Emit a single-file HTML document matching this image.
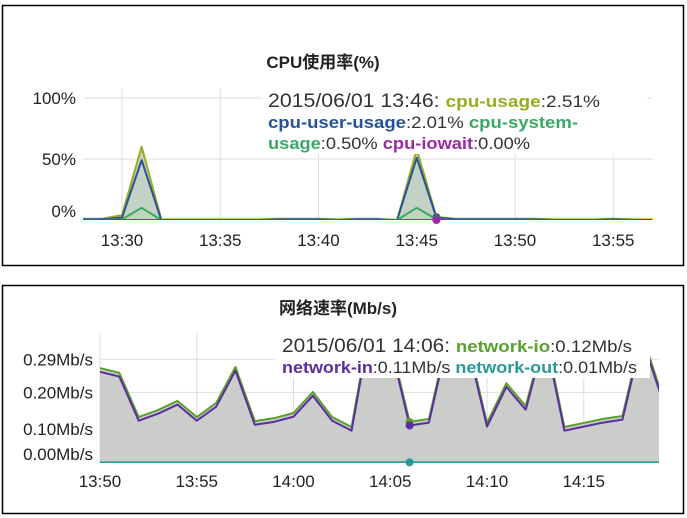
<!DOCTYPE html>
<html><head><meta charset="utf-8">
<style>
html,body{margin:0;padding:0;background:#fff;width:687px;height:518px;overflow:hidden}
svg{display:block;font-family:"Liberation Sans","Noto Sans CJK SC",sans-serif}
</style></head>
<body>
<svg id="svg" width="687" height="518" viewBox="0 0 687 518">
  <rect x="2.5" y="5.5" width="681" height="260" fill="#fff" stroke="#000" stroke-width="1.5"/>
  <rect x="2.5" y="285.5" width="681" height="228" fill="#fff" stroke="#000" stroke-width="1.5"/>
  <text x="323" y="68" text-anchor="middle" font-size="17" font-weight="bold" fill="#222">CPU使用率(%)</text>
  <text x="338" y="314" text-anchor="middle" font-size="17" font-weight="bold" fill="#222">网络速率(Mb/s)</text>
  <g id="cpu"></g>
  <g id="net"></g>
</svg>
<script>
// ---- CPU chart data (per minute starting 13:28) ----
const cpuStartMin = 28;
const cpuUsage  = [1,1,4,60,0.5,0.5,0.5,0.5,0.5,0.5,1,1,1,0.5,1,1,0,58,2.51,1,1,1,1,1,0.5,0.5,0.5,1,0.5,0.5];
const cpuUser   = [0.5,0.5,2,49,0,0,0,0,0,0,0.5,0.5,0.5,0,0.5,0.5,0,51,2.01,0.5,0.5,0.5,0.5,0.5,0,0,0,0.5,0,0];
const cpuSystem = [0,0,0.5,10,0,0,0,0,0,0,0,0,0,0,0,0,0,10,0.5,0,0,0,0,0,0,0,0,0,0,0];
const cpuIowait = [0,0,0,0,0,0,0,0,0,0,0,0,0,0,0,0,0,0,0,0,0,0,0,0,0,0,0,0,0,0];
const cpuXTicks = ["13:30","13:35","13:40","13:45","13:50","13:55"];
const cpuXTickMin = [30,35,40,45,50,55];
const cpuYTicks = [100,50,0];
const cpuYTickLabels = ["100%","50%","0%"];

// ---- Network chart data (per minute starting 13:50) ----
const netStartMin = 50;
const netIo  = [0.266,0.253,0.133,0.152,0.177,0.133,0.171,0.269,0.122,0.13,0.144,0.201,0.133,0.106,0.40,0.34,0.12,0.128,0.36,0.34,0.117,0.225,0.163,0.36,0.106,0.117,0.128,0.136,0.36,0.20];
const netIn  = [0.256,0.243,0.123,0.142,0.167,0.123,0.161,0.259,0.112,0.12,0.134,0.191,0.123,0.096,0.39,0.33,0.11,0.118,0.35,0.33,0.107,0.215,0.153,0.35,0.096,0.107,0.118,0.126,0.35,0.19];
const netOut = [0.01,0.01,0.01,0.01,0.01,0.01,0.01,0.01,0.01,0.01,0.01,0.01,0.01,0.01,0.01,0.01,0.01,0.01,0.01,0.01,0.01,0.01,0.01,0.01,0.01,0.01,0.01,0.01,0.01,0.01];
const netXTicks = ["13:50","13:55","14:00","14:05","14:10","14:15"];
const netXTickMin = [50,55,60,65,70,75];
const netYTicks = [0.29,0.20,0.10,0.00];
const netYTickLabels = ["0.29Mb/s","0.20Mb/s","0.10Mb/s","0.00Mb/s"];

const NS="http://www.w3.org/2000/svg";
function mk(parent,tag,attrs){const e=document.createElementNS(NS,tag);for(const k in attrs)e.setAttribute(k,attrs[k]);parent.appendChild(e);return e;}

function drawChart(g,cfg){
  const {left,right,top,bottom,xOf,yOf,xTickMin,xTicks,yTicks,yTickLabels,labelX,labelSize,clipId,series,fill,tip,hoverIdx,idxToMin,xLabelY}=cfg;
  const defs=mk(g,'defs',{});
  const cp=mk(defs,'clipPath',{id:clipId});
  mk(cp,'rect',{x:left,y:top,width:right-left,height:bottom-top});
  yTicks.forEach((v,i)=>{
    const y=yOf(v);
    if(y<bottom-2){
      const l=mk(g,'line',{x1:left,x2:right,y1:y,y2:y,stroke:'#ddd','stroke-width':1});
      
      
    }
    const t=mk(g,'text',{x:labelX,y:Math.min(y,bottom-9)+6,'text-anchor':'end','font-size':labelSize,fill:'#222'});
    
    
    t.textContent=yTickLabels[i];
  });
  xTickMin.forEach((m,i)=>{
    const x=xOf(m);
    const l=mk(g,'line',{x1:x,x2:x,y1:top,y2:bottom,stroke:'#ddd','stroke-width':1});
    
    
    const t=mk(g,'text',{x:x,y:xLabelY,'text-anchor':'middle','font-size':17,fill:'#222'});
    
    
    t.textContent=xTicks[i];
  });
  const pg=mk(g,'g',{'clip-path':'url(#'+clipId+')'});
  
  
  const s0=series[0].data;
  let d='M'+xOf(idxToMin(0))+','+yOf(0);
  s0.forEach((v,i)=>{d+=' L'+xOf(idxToMin(i))+','+yOf(v);});
  d+=' L'+xOf(idxToMin(s0.length-1))+','+yOf(0)+' Z';
  const a=mk(pg,'path',{d:d,fill:fill,stroke:'none'});
  
  
  series.forEach(s=>{
    const pts=s.data.map((v,i)=>xOf(idxToMin(i))+','+yOf(v)).join(' ');
    const pl=mk(pg,'polyline',{points:pts,fill:'none',stroke:s.color,'stroke-width':s.w||2,'stroke-linejoin':'round'});
    
    
  });
  const tb=mk(g,'rect',{x:tip.x,y:tip.y,width:tip.w,height:tip.h,fill:'#fff'});
  
  
  series.forEach(s=>{
    const c=mk(g,'circle',{cx:xOf(idxToMin(hoverIdx)),cy:yOf(s.data[hoverIdx]),r:4,fill:s.color});
    
    
  });
}

(function(){
  const g=document.getElementById('cpu');
  const x0=122, pxMin=19.65, y0=220, pxPct=1.22;
  drawChart(g,{
    left:83,right:653,top:88,bottom:220,
    xOf:m=>x0+(m-30)*pxMin, yOf:v=>y0-v*pxPct,
    idxToMin:i=>cpuStartMin+i,
    xTickMin:cpuXTickMin,xTicks:cpuXTicks,yTicks:cpuYTicks,yTickLabels:cpuYTickLabels,
    labelX:76,labelSize:17,clipId:'cpuclip',xLabelY:246,
    fill:'#c4d2c6',hoverIdx:18,
    tip:{x:262,y:86,w:385,h:68},
    series:[
      {name:'cpu-usage',data:cpuUsage,color:'#9aab1e'},
      {name:'cpu-user-usage',data:cpuUser,color:'#27519c'},
      {name:'cpu-system-usage',data:cpuSystem,color:'#3aa865'},
      {name:'cpu-iowait',data:cpuIowait,color:'#9b2aa8'}
    ]
  });
})();

(function(){
  const g=document.getElementById('net');
  const x0=100, pxMin=19.35, y0=466, pxU=368;
  drawChart(g,{
    left:100,right:659,top:333,bottom:463,
    xOf:m=>x0+(m-50)*pxMin, yOf:v=>y0-v*pxU,
    idxToMin:i=>netStartMin+i,
    xTickMin:netXTickMin,xTicks:netXTicks,yTicks:netYTicks,yTickLabels:netYTickLabels,
    labelX:93,labelSize:17,clipId:'netclip',xLabelY:487,
    fill:'#cbcdcb',hoverIdx:16,
    tip:{x:275,y:333,w:375,h:45},
    series:[
      {name:'network-io',data:netIo,color:'#5aa02c'},
      {name:'network-in',data:netIn,color:'#5b2d9e'},
      {name:'network-out',data:netOut,color:'#2a9a98'}
    ]
  });
})();
</script>
<svg style="position:absolute;left:0;top:0" width="687" height="518">
  <g font-family="Liberation Sans, sans-serif">
    <text x="268" y="107" font-size="19" fill="#333" textLength="332" lengthAdjust="spacingAndGlyphs"><tspan>2015/06/01 13:46: </tspan><tspan font-size="17" font-weight="bold" fill="#9aab1e">cpu-usage</tspan><tspan font-size="17" fill="#333">:2.51%</tspan></text>
    <text x="268" y="128" font-size="17" fill="#333" textLength="310" lengthAdjust="spacingAndGlyphs"><tspan font-weight="bold" fill="#27519c">cpu-user-usage</tspan>:2.01% <tspan font-weight="bold" fill="#3aa865">cpu-system-</tspan></text>
    <text x="268" y="149" font-size="17" fill="#333" textLength="262" lengthAdjust="spacingAndGlyphs"><tspan font-weight="bold" fill="#3aa865">usage</tspan>:0.50% <tspan font-weight="bold" fill="#9b2aa8">cpu-iowait</tspan>:0.00%</text>
  </g>
  <g font-family="Liberation Sans, sans-serif">
    <text x="282" y="352" font-size="19" fill="#333" textLength="350" lengthAdjust="spacingAndGlyphs">2015/06/01 14:06: <tspan font-size="17" font-weight="bold" fill="#5aa02c">network-io</tspan><tspan font-size="17">:0.12Mb/s</tspan></text>
    <text x="282" y="373" font-size="17" fill="#333" textLength="355" lengthAdjust="spacingAndGlyphs"><tspan font-weight="bold" fill="#5b2d9e">network-in</tspan>:0.11Mb/s <tspan font-weight="bold" fill="#2a9a98">network-out</tspan>:0.01Mb/s</text>
  </g>
</svg>
</body></html>
